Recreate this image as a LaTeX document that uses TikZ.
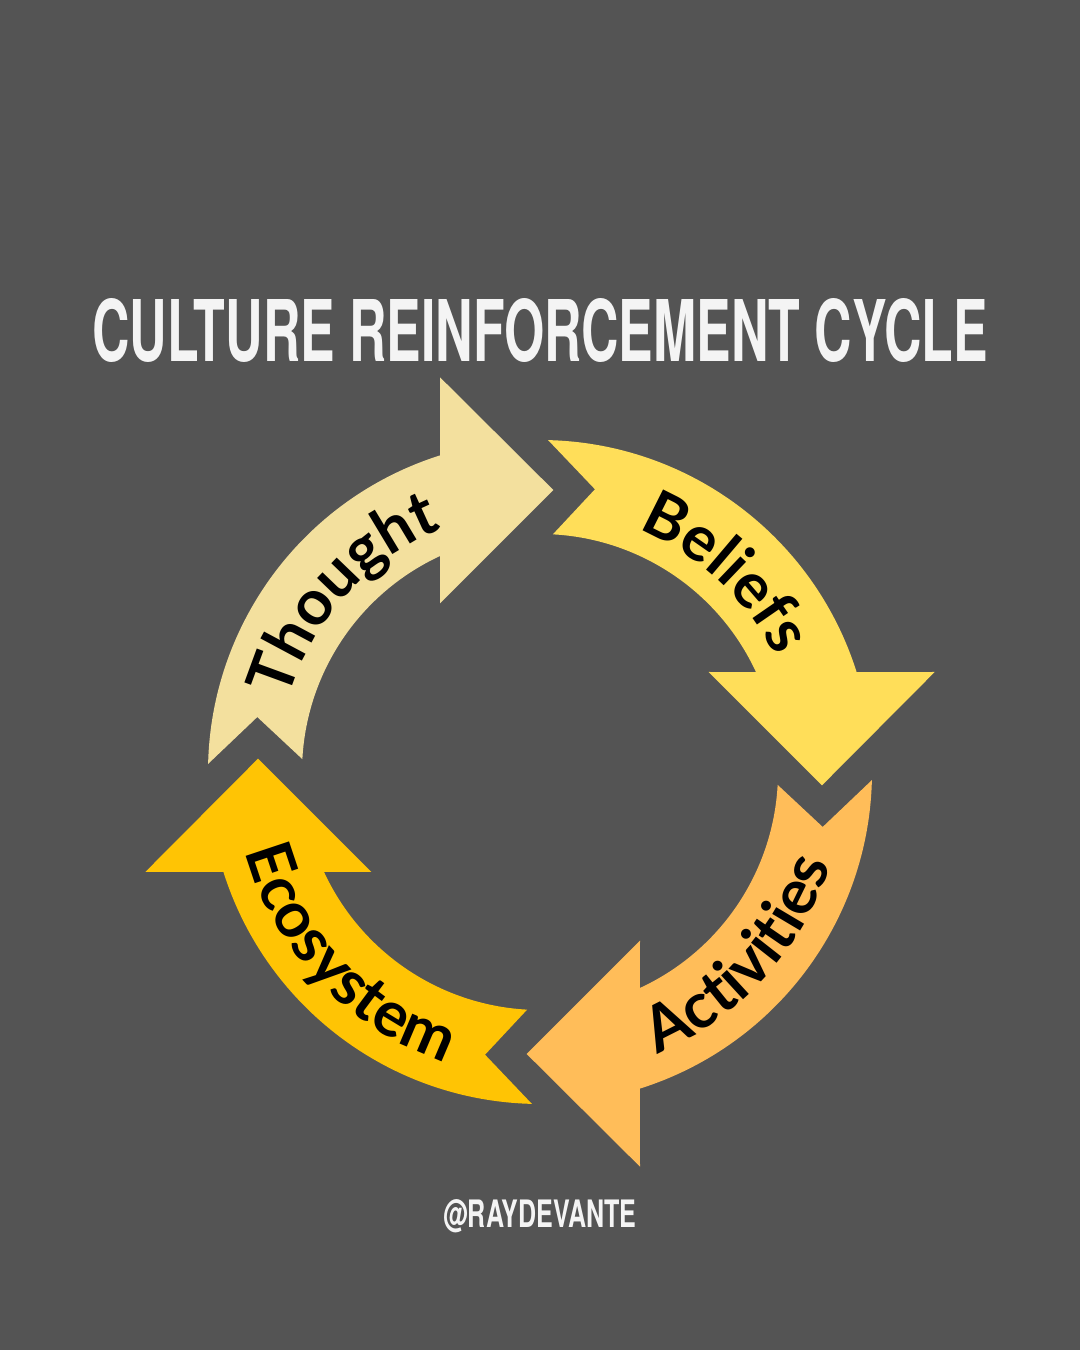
\documentclass[tikz,border=0pt]{standalone}
\usepackage{fontspec}
\usetikzlibrary{decorations.text}

\newfontfamily\lblfont{Lato}
\newfontfamily\headfont{TeX Gyre Heros}

\newlength\unitpx
\setlength\unitpx{0.025cm}

\definecolor{bgGray}{HTML}{545454}
\definecolor{titleWhite}{HTML}{F4F4F4}
\definecolor{colThought}{HTML}{F3E09E}
\definecolor{colBeliefs}{HTML}{FFDE59}
\definecolor{colActivities}{HTML}{FFBD59}
\definecolor{colEcosystem}{HTML}{FFC404}

\newcommand\lblstyle{\lblfont\bfseries\fontsize{45}{45}\selectfont}

\begin{document}
\begin{tikzpicture}[
    x=0.025cm,
    y=0.025cm,
    cycle label/.style={decorate, decoration={text along path, text align=center, text color=black}}
]

\fill[bgGray] (0,0) rectangle (1080,1350);
\useasboundingbox (0,0) rectangle (1080,1350);

\node[anchor=base, inner sep=0pt, text=titleWhite] (title) at (540,988)
    {\resizebox{895\unitpx}{63\unitpx}{\headfont\bfseries CULTURE REINFORCEMENT CYCLE}};

% four curved arrows, one shape turned by 90 degrees each time
\begin{scope}[shift={(540,578)}]
    \foreach \rot/\col in {0/colThought, -90/colBeliefs, -180/colActivities, -270/colEcosystem} {
        \fill[\col, rotate=\rot]
            (178.6:332) arc[start angle=178.6, end angle=107.5, radius=332]
            -- (-100,394.7) -- (13.3,282) -- (-100,168.7)
            -- (114.8:238) arc[start angle=114.8, end angle=176.9, radius=238]
            -- (169:288) -- cycle;
    }

    % labels follow the ring
    \path[cycle label, decoration={text={|\lblstyle|Thought}}]
        (174:262) arc[start angle=174, end angle=102, radius=262];
    \path[cycle label, decoration={text={|\lblstyle|Beliefs}}]
        (83:262) arc[start angle=83, end angle=11, radius=262];
    \path[cycle label, decoration={text={|\lblstyle|Activities}}]
        (-82:305) arc[start angle=-82, end angle=-3, radius=305];
    \path[cycle label, decoration={text={|\lblstyle|Ecosystem}}]
        (184:305) arc[start angle=184, end angle=263, radius=305];
\end{scope}

\node[anchor=base, inner sep=0pt, text=titleWhite] (handle) at (540,122)
    {\resizebox{193\unitpx}{28\unitpx}{\headfont\bfseries @RAYDEVANTE}};

\end{tikzpicture}
\end{document}
